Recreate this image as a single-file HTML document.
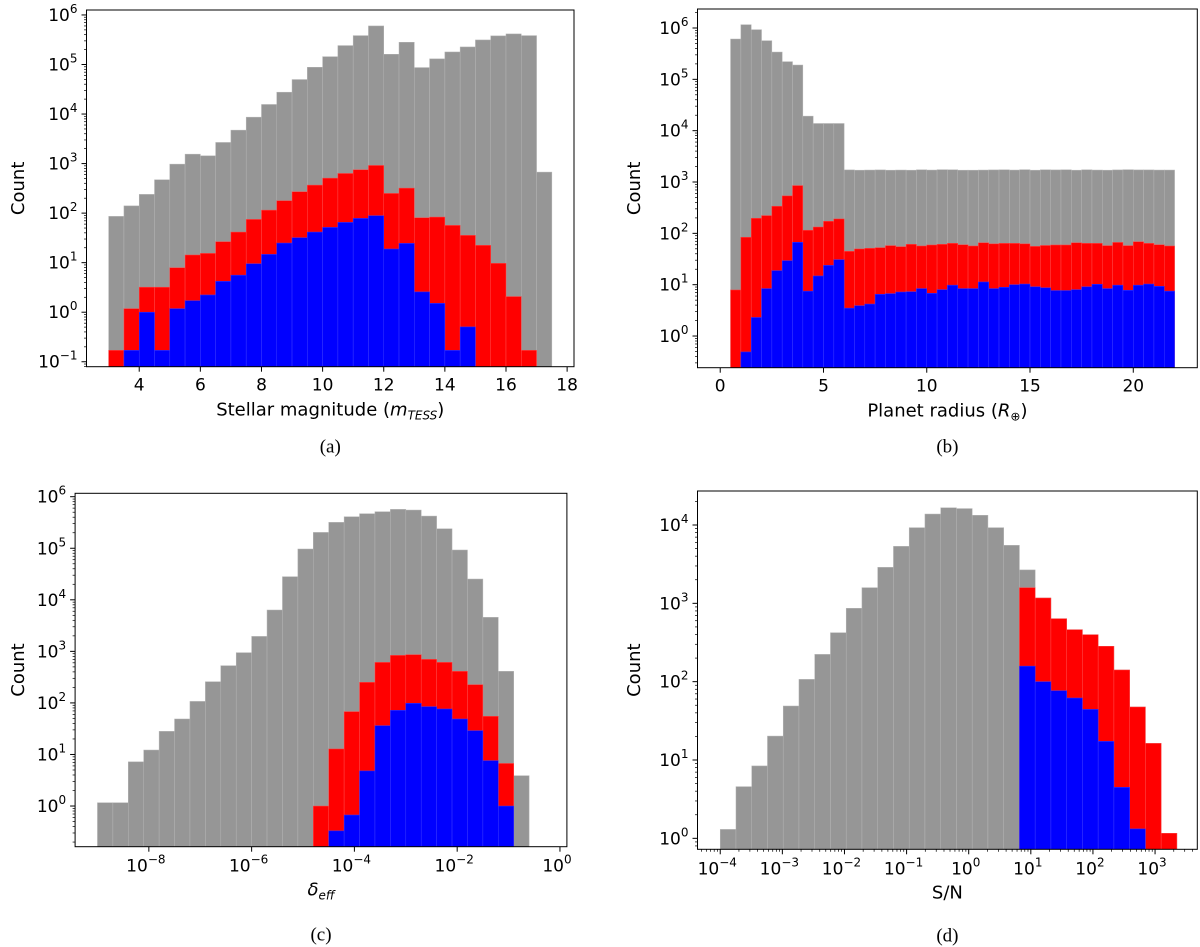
<!DOCTYPE html>
<html><head><meta charset="utf-8">
<style>
html,body{margin:0;padding:0;background:#fff;}
svg{display:block;font-family:"DejaVu Sans","Liberation Sans",sans-serif;}
.cap{font-family:"Liberation Serif",serif;font-size:19px;}
</style></head>
<body>
<svg id="fig" width="1200" height="947" viewBox="0 0 1200 947" xmlns="http://www.w3.org/2000/svg"></svg>
<script>
// ---- Panel (a): stellar magnitude ----
const aEdgeStart = 3, aBinWidth = 0.5;
const aGray = [86,140,239,471,975,1550,1435,2670,4730,8650,15600,27600,49700,88000,144000,241000,383000,600000,161000,281000,86700,130000,179000,226000,313000,378000,414000,383000,673];
const aRed = [0.17,1.18,3.2,3.2,7.9,14.3,15.4,26.5,41.5,74.7,115,178,270,368,509,632,750,917,250,320,80.7,83.3,56.6,35.6,22.4,9.7,2.07,0.17,0];
const aBlue = [0,0.17,1.0,0.17,1.18,1.71,2.23,4.2,5.6,9.5,14.7,24.9,31.9,41.5,51.5,65,78.3,88.7,18.9,24.5,2.57,1.51,0.17,0.505,0,0,0,0,0];
const aXTicks = [4,6,8,10,12,14,16,18];
const aYTicks = [-1,0,1,2,3,4,5,6];

// ---- Panel (b): planet radius ----
const bEdgeStart = 0.5, bBinWidth = 0.5;
const bGray = [610000,1160000,928000,566000,340000,221000,190000,19200,13800,13800,13800,1720,1700,1710,1720,1700,1710,1700,1730,1710,1740,1730,1700,1700,1710,1720,1730,1710,1740,1700,1730,1720,1730,1700,1730,1710,1700,1720,1740,1720,1720,1710,1710];
const bRed = [7.9,84,197,222,338,537,853,115,133,172,191,44.7,49.7,51.2,52.7,57.7,55.1,61.2,56.8,59.4,61.2,64,60,56.8,65.5,62.5,63.9,63.9,62.5,55.8,58.1,59.4,59.4,65.5,64,63.9,57.7,66.6,57.7,68.7,63.9,60,56.8];
const bBlue = [0,0.49,2.3,8.4,18.8,29.4,67,7.5,14.8,23.8,30.7,3.5,3.9,4.2,6.5,6.7,7.2,7.3,8.4,6.8,8.0,9.8,8.4,8.4,11.3,8.4,8.9,10.0,10.3,9.1,8.7,7.7,7.7,8.0,9.1,10.2,8.4,9.8,7.8,9.8,10.3,9.3,7.5];
const bXTicks = [0,5,10,15,20];
const bYTicks = [0,1,2,3,4,5,6];

// ---- Panel (c): effective depth (log bins) ----
const cEdgeStartLog = -9, cBinWidthLog = 0.3;
const cGray = [1.16,1.16,7.2,12.2,28.1,48.8,107,258,528,944,1950,6340,28100,96700,203000,318000,409000,468000,512000,568000,551000,421000,239000,92500,25300,4570,410,3.88];
const cRed = [0,0,0,0,0,0,0,0,0,0,0,0,0,0,1.0,12.8,67.8,251,612,837,863,700,612,410,226,55,6.7,0];
const cBlue = [0,0,0,0,0,0,0,0,0,0,0,0,0,0,0,0.33,0.67,4.8,36.2,71.9,98.3,84.7,76.3,48.8,29,7.6,1.0,0];
const cXTicks = [-8,-6,-4,-2,0];
const cYTicks = [0,1,2,3,4,5,6];

// ---- Panel (d): S/N (log bins) ----
const dEdgeStartLog = -4, dBinWidthLog = 0.2535;
const dGray = [1.30,4.57,8.4,20.2,48.9,107,223,422,864,1585,2880,5340,9250,13800,16600,16200,13300,9250,5500,2670,1170,637,461,398,283,141,47.5,16.3,1.16];
const dRed = [0,0,0,0,0,0,0,0,0,0,0,0,0,0,0,0,0,0,0,1585,1170,637,461,398,283,141,47.5,16.3,1.16];
const dBlue = [0,0,0,0,0,0,0,0,0,0,0,0,0,0,0,0,0,0,0,158,100,76.7,61.9,44.3,17.3,4.48,1.32,0,0];
const dXTicks = [-4,-3,-2,-1,0,1,2,3];
const dYTicks = [0,1,2,3,4];

const NS = "http://www.w3.org/2000/svg";
const svg = document.getElementById("fig");
function mk(tag, attrs, parent){
  const e = document.createElementNS(NS, tag);
  for (const k in attrs) e.setAttribute(k, attrs[k]);
  (parent||svg).appendChild(e);
  return e;
}
function supText(parent, x, y, base, exp, anchor){
  const t = mk("text", {x:x, y:y, "font-size":17, "text-anchor":anchor, fill:"#000"}, parent);
  t.appendChild(document.createTextNode(base));
  const s = mk("tspan", {dy:-8, "font-size":12}, t);
  s.textContent = exp;
  return t;
}

function panel(cfg){
  const g = mk("g", {});
  
  
  const L=cfg.left, R=cfg.right, T=cfg.top, B=cfg.bottom;
  const xs = v => L + (v - cfg.xmin)/(cfg.xmax - cfg.xmin)*(R-L);
  const ys = v => T + (cfg.ymax - Math.log10(v))/(cfg.ymax - cfg.ymin)*(B-T);
  const series = [[cfg.gray,"#969696","gray"],[cfg.red,"#ff0000","red"],[cfg.blue,"#0000ff","blue"]];
  const clip = mk("clipPath", {id:"clip-"+cfg.name}, g);
  mk("rect", {x:L, y:T, width:R-L, height:B-T}, clip);
  const bars = mk("g", {"clip-path":"url(#clip-"+cfg.name+")"}, g);
  
  
  series.forEach(([vals,col,nm]) => {
    vals.forEach((v,i) => {
      if (!(v>0)) return;
      const x0 = xs(cfg.start + i*cfg.width), x1 = xs(cfg.start + (i+1)*cfg.width);
      const y = ys(v);
      const r = mk("rect", {x:x0, y:y, width:x1-x0, height:B-y, fill:col,
        stroke: nm==="gray" ? "#b4b4b4" : (nm==="red" ? "#ff4a4a" : "#3a3aff"), "stroke-width":0.5}, bars);
      
      
    });
  });
  const fr = mk("rect", {x:L, y:T, width:R-L, height:B-T, fill:"none", stroke:"#000", "stroke-width":1}, g);
  
  
  const yt = mk("g", {}, g);
  
  
  for (let d=Math.floor(cfg.ymin); d<=Math.ceil(cfg.ymax); d++){
    for (let m=2;m<10;m++){
      const lv = d + Math.log10(m);
      if (lv<cfg.ymin || lv>cfg.ymax) continue;
      const y = ys(Math.pow(10,lv));
      mk("line",{x1:L-2.5,x2:L,y1:y,y2:y,stroke:"#000","stroke-width":0.7},yt);
    }
  }
  cfg.yticks.forEach(e => {
    const y = ys(Math.pow(10,e));
    mk("line",{x1:L-5,x2:L,y1:y,y2:y,stroke:"#000","stroke-width":1},yt);
    const t = supText(yt, L-9, y+6, "10", e<0 ? "\u2212"+(-e) : String(e), "end");
    
    
  });
  const xt = mk("g", {}, g);
  
  
  if (cfg.xminor){
    for (let d=Math.floor(cfg.xmin); d<=Math.ceil(cfg.xmax); d++){
      for (let m=2;m<10;m++){
        const lv = d + Math.log10(m);
        if (lv<cfg.xmin || lv>cfg.xmax) continue;
        const x = xs(lv);
        mk("line",{x1:x,x2:x,y1:B,y2:B+2.5,stroke:"#000","stroke-width":0.7},xt);
      }
    }
  }
  cfg.xticks.forEach(v => {
    const x = xs(v);
    mk("line",{x1:x,x2:x,y1:B,y2:B+5,stroke:"#000","stroke-width":1},xt);
    let t;
    if (cfg.xlog) t = supText(xt, x-3, B+25, "10", v<0 ? "\u2212"+(-v) : String(v), "middle");
    else { t = mk("text",{x:x,y:B+24,"font-size":17,"text-anchor":"middle"},xt); t.textContent = String(v); }
    
    
  });
  const cy = (T+B)/2;
  const yl = mk("text",{x:cfg.ylabelX,y:cy,"font-size":18,"text-anchor":"middle",transform:"rotate(-90 "+cfg.ylabelX+" "+cy+")"},g);
  yl.textContent = "Count";
  
  
  const xl = mk("text",{x:(L+R)/2,y:B+49,"font-size":18,"text-anchor":"middle"},g);
  xl.innerHTML = cfg.xlabel;
  
  
  const cp = mk("text",{x:(L+R)/2,y:B+cfg.capDy,"text-anchor":"middle",class:"cap"},g);
  cp.textContent = cfg.caption;
  
  
}

panel({name:"panel-a-magnitude", left:86.5,right:574,top:10,bottom:366.7, xmin:2.275,xmax:18.225, ymin:-1.1,ymax:6.1,
  start:aEdgeStart,width:aBinWidth, gray:aGray,red:aRed,blue:aBlue, xticks:aXTicks,yticks:aYTicks, xlog:false,xminor:false,
  ylabelX:24, caption:"(a)", capDy:86,
  xlabel:'Stellar magnitude (<tspan font-style="italic">m</tspan><tspan font-style="italic" font-size="12" dy="4">TESS</tspan><tspan dy="-4">)</tspan>'});
panel({name:"panel-b-radius", left:697.5,right:1197.3,top:9,bottom:367.7, xmin:-1.1,xmax:23.1, ymin:-0.617,ymax:6.37,
  start:bEdgeStart,width:bBinWidth, gray:bGray,red:bRed,blue:bBlue, xticks:bXTicks,yticks:bYTicks, xlog:false,xminor:false,
  ylabelX:640, caption:"(b)", capDy:85,
  xlabel:'Planet radius (<tspan font-style="italic">R</tspan><tspan font-size="12" dy="4">\u2295</tspan><tspan dy="-4">)</tspan>'});
panel({name:"panel-c-depth", left:75.1,right:566.9,top:493.3,bottom:846.7, xmin:-9.435,xmax:0.135, ymin:-0.789,ymax:6.066,
  start:cEdgeStartLog,width:cBinWidthLog, gray:cGray,red:cRed,blue:cBlue, xticks:cXTicks,yticks:cYTicks, xlog:true,xminor:false,
  ylabelX:24, caption:"(c)", capDy:94,
  xlabel:'<tspan font-style="italic">\u03b4</tspan><tspan font-style="italic" font-size="12" dy="4">eff</tspan>'});
panel({name:"panel-d-snr", left:697.5,right:1197.3,top:491,bottom:849.3, xmin:-4.366,xmax:3.68, ymin:-0.14,ymax:4.434,
  start:dEdgeStartLog,width:dBinWidthLog, gray:dGray,red:dRed,blue:dBlue, xticks:dXTicks,yticks:dYTicks, xlog:true,xminor:true,
  ylabelX:640, caption:"(d)", capDy:92, xlabel:'S/N'});
</script>
</body></html>
